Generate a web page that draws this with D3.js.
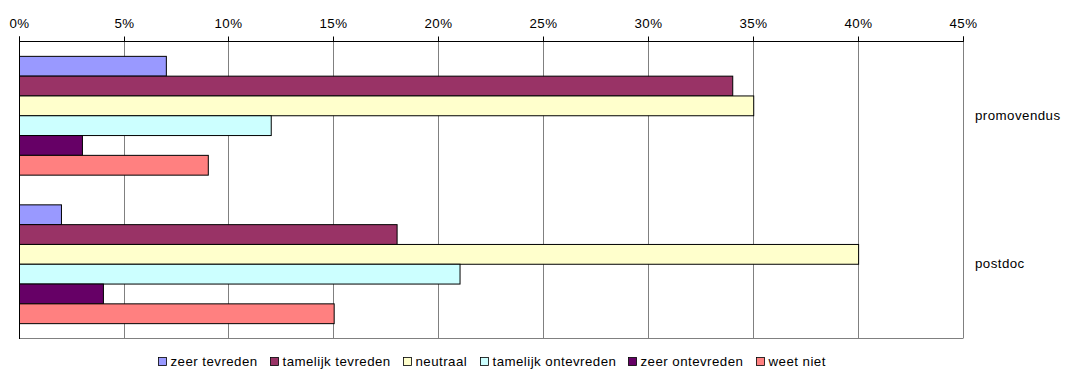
<!DOCTYPE html>
<html>
<head>
<meta charset="utf-8">
<script src="https://cdn.jsdelivr.net/npm/d3@7"></script>
<style>
  html, body { margin: 0; padding: 0; background: #fff; }
  svg { display: block; font-family: "Liberation Sans", Arial, sans-serif; }
  svg text { letter-spacing: 0.45px; }
</style>
</head>
<body>
<svg id="chart" width="1067" height="369"></svg>
<script>
// Satisfaction per position, share of respondents
const groups = ["promovendus", "postdoc"];
const answers = ["zeer tevreden", "tamelijk tevreden", "neutraal", "tamelijk ontevreden", "zeer ontevreden", "weet niet"];
const promovendusValues = [0.07, 0.34, 0.35, 0.12, 0.03, 0.09];
const postdocValues = [0.02, 0.18, 0.40, 0.21, 0.04, 0.15];
const tickValues = [0, 0.05, 0.10, 0.15, 0.20, 0.25, 0.30, 0.35, 0.40, 0.45];
const colors = ["#9999FF", "#993366", "#FFFFCC", "#CCFFFF", "#660066", "#FF8080"];

const valuesByGroup = { promovendus: promovendusValues, postdoc: postdocValues };

const svg = d3.select("#chart");
const fontSize = 13.3;
const plot = { left: 18.7, right: 962.7, top: 41, bottom: 338 };

const x = d3.scaleLinear().domain([0, 0.45]).range([plot.left, plot.right]);
const y = d3.scaleBand().domain(groups).range([plot.top, plot.bottom])
  .paddingInner(0.2).paddingOuter(0.1);
const yInner = d3.scaleBand().domain(answers).range([0, y.bandwidth()]);
const color = d3.scaleOrdinal().domain(answers).range(colors);

// vertical gridlines
svg.append("g").selectAll("line").data(tickValues.slice(1)).join("line")
  .attr("x1", d => Math.round(x(d)) + 0.5).attr("x2", d => Math.round(x(d)) + 0.5)
  .attr("y1", plot.top).attr("y2", plot.bottom)
  .attr("stroke", "#808080").attr("stroke-width", 1);

// bottom border
svg.append("line")
  .attr("x1", Math.round(plot.left) + 0.5).attr("x2", Math.round(plot.right) + 0.5)
  .attr("y1", plot.bottom + 0.5).attr("y2", plot.bottom + 0.5)
  .attr("stroke", "#808080");

// top axis
const axis = d3.axisTop(x).tickValues(tickValues).tickSize(5).tickPadding(9)
  .tickFormat(d3.format(".0%"));
const axisG = svg.append("g").attr("transform", `translate(0.5,${plot.top + 0.5})`).call(axis);
axisG.select(".domain").attr("stroke", "#000").attr("d", `M${Math.round(plot.left)},-5V0H${Math.round(plot.right)}V-5`);
axisG.selectAll(".tick").attr("transform", d => `translate(${Math.round(x(d))},0)`);
axisG.selectAll(".tick line").attr("stroke", "#000");
axisG.selectAll(".tick text").attr("fill", "#000").style("font-size", fontSize + "px")
  .attr("font-family", "Liberation Sans, Arial, sans-serif").attr("dy", "0");

// bars
const barG = svg.append("g").selectAll("g").data(groups).join("g")
  .attr("transform", d => `translate(0,${y(d)})`);
barG.selectAll("rect").data(g => answers.map((a, i) => ({ answer: a, value: valuesByGroup[g][i] })))
  .join("rect")
  .attr("x", Math.round(x(0)) + 0.5)
  .attr("y", d => yInner(d.answer) + 0.5)
  .attr("width", d => x(d.value) - x(0))
  .attr("height", yInner.bandwidth())
  .attr("fill", d => color(d.answer))
  .attr("stroke", "#000").attr("stroke-width", 1);

// left axis line
svg.append("line")
  .attr("x1", Math.round(plot.left) + 0.5).attr("x2", Math.round(plot.left) + 0.5)
  .attr("y1", plot.top).attr("y2", plot.bottom + 1)
  .attr("stroke", "#000");

// category labels on the right
svg.append("g").selectAll("text").data(groups).join("text")
  .attr("x", 975).attr("y", d => y(d) + y.bandwidth() / 2)
  .attr("dy", "0.35em")
  .style("font-size", fontSize + "px").attr("fill", "#000")
  .text(d => d);

// legend
const legend = svg.append("g");
const items = legend.selectAll("g").data(answers).join("g");
items.append("rect").attr("width", 8).attr("height", 8)
  .attr("fill", d => color(d)).attr("stroke", "#000").attr("stroke-width", 0.8);
items.append("text").attr("x", 12).attr("y", 4).attr("dy", "0.35em")
  .style("font-size", fontSize + "px").attr("fill", "#000").text(d => d);
const gap = 13;
const widths = items.nodes().map(n => 12 + n.querySelector("text").getComputedTextLength());
const total = d3.sum(widths) + gap * (widths.length - 1);
let cx = 491.5 - total / 2;
items.attr("transform", (d, i) => {
  const t = `translate(${Math.round(cx) + 0.5},${357.5})`;
  cx += widths[i] + gap;
  return t;
});
</script>
</body>
</html>
